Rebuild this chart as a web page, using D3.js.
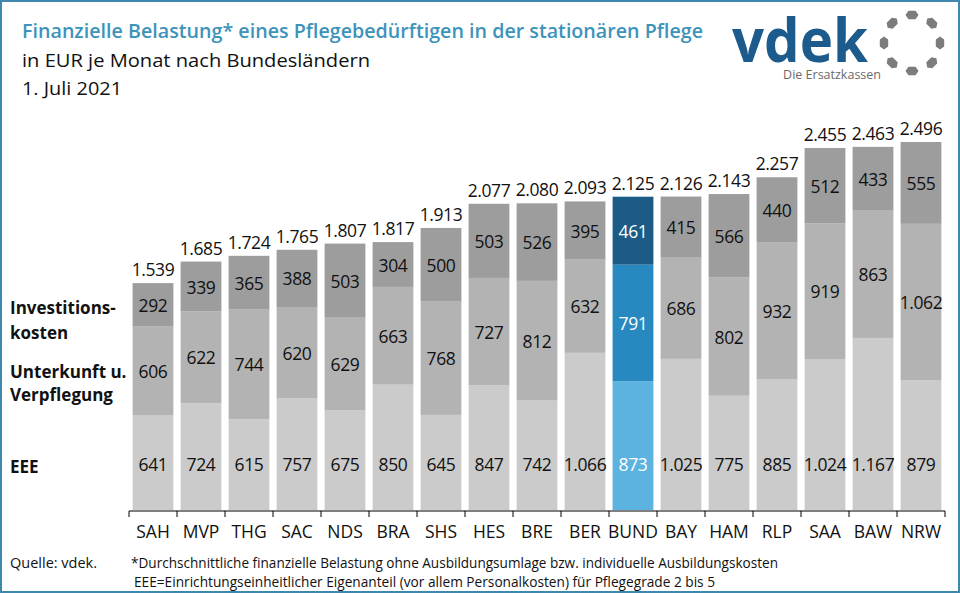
<!DOCTYPE html>
<html>
<head>
<meta charset="utf-8">
<script src="https://cdn.jsdelivr.net/npm/d3@7"></script>
<style>
  body { margin: 0; background: #fff; }
  svg text { font-family: "Open Sans", "Noto Sans", sans-serif; }
</style>
</head>
<body>
<svg id="chart"></svg>
<script>
// Bundesländer, Reihenfolge wie im Original
let states = ['SAH','MVP','THG','SAC','NDS','BRA','SHS','HES','BRE','BER','BUND','BAY','HAM','RLP','SAA','BAW','NRW']
let eee = [641,724,615,757,675,850,645,847,742,1066,873,1025,775,885,1024,1167,879]
let unterkunft = [606,622,744,620,629,663,768,727,812,632,791,686,802,932,919,863,1062]
let invest = [292,339,365,388,503,304,500,503,526,395,461,415,566,440,512,433,555]
let totals = [1539,1685,1724,1765,1807,1817,1913,2077,2080,2093,2125,2126,2143,2257,2455,2463,2496]
let seriesKeys = ['eee','unterkunft','invest']

let width = 960, height = 593

let svg = d3.select('#chart')
    .attr('width', width)
    .attr('height', height)
    .attr('viewBox', `0 0 ${width} ${height}`)

let de = d3.formatLocale({decimal: ',', thousands: '.', grouping: [3], currency: ['', ' €']})
let fmt = de.format(',')

let rows = states.map((s, i) => ({state: s, eee: eee[i], unterkunft: unterkunft[i], invest: invest[i], total: totals[i]}))
let stacked = d3.stack().keys(seriesKeys)(rows)

let x = d3.scaleBand()
    .domain(states)
    .range([129, 945])
    .paddingInner(0.15)
    .paddingOuter(0.075)

let y = d3.scaleLinear()
    .domain([0, d3.max(totals)])
    .range([510, 142])

let grey = {eee: '#cbcbcb', unterkunft: '#b3b3b3', invest: '#9d9d9d'}
let blue = {eee: '#5cb3df', unterkunft: '#2789bf', invest: '#1b5b86'}
let colour = (key, state) => state === 'BUND' ? blue[key] : grey[key]

// Rahmen
svg.append('rect')
    .attr('x', 1).attr('y', 1)
    .attr('width', width - 2).attr('height', height - 2)
    .attr('fill', 'none')
    .attr('stroke', '#3f88ad')
    .attr('stroke-width', 2)

// Titel
let titleG = svg.append('g').attr('id', 'titleG')
titleG.append('text')
    .attr('x', 22).attr('y', 38)
    .attr('font-size', 19).attr('font-weight', 600)
    .attr('fill', '#3d93bb')
    .attr('textLength', 681).attr('lengthAdjust', 'spacingAndGlyphs')
    .text('Finanzielle Belastung* eines Pflegebedürftigen in der stationären Pflege')
titleG.append('text')
    .attr('x', 22).attr('y', 67)
    .attr('font-size', 19).attr('fill', '#111')
    .attr('textLength', 348).attr('lengthAdjust', 'spacingAndGlyphs')
    .text('in EUR je Monat nach Bundesländern')
titleG.append('text')
    .attr('x', 22).attr('y', 95)
    .attr('font-size', 19).attr('fill', '#111')
    .attr('textLength', 100).attr('lengthAdjust', 'spacingAndGlyphs')
    .text('1. Juli 2021')

// Logo
let logoG = svg.append('g').attr('id', 'logoG')
logoG.append('text')
    .attr('transform', 'translate(732, 62) scale(1, 1.12)')
    .attr('font-family', '"DejaVu Sans", sans-serif')
    .attr('font-size', 54).attr('font-weight', 'bold')
    .attr('fill', '#1c5b8c')
    .attr('textLength', 136).attr('lengthAdjust', 'spacingAndGlyphs')
    .text('vdek')
logoG.append('text')
    .attr('x', 881).attr('y', 79)
    .attr('text-anchor', 'end')
    .attr('font-size', 12.5).attr('fill', '#6a6a6a')
    .text('Die Ersatzkassen')
let hex = 'M-6.5,0 L-3.6,-4.2 L3.6,-4.2 L6.5,0 L3.6,4.2 L-3.6,4.2 Z'
logoG.selectAll('.ring')
    .data(d3.range(8))
    .enter().append('path')
    .attr('class', 'ring')
    .attr('d', hex)
    .attr('fill', '#7c7c7c')
    .attr('transform', d => {
        let a = d * 45
        let rad = a * Math.PI / 180
        return `translate(${912 + 28 * Math.cos(rad)}, ${43 + 28 * Math.sin(rad)}) rotate(${a + 90})`
    })

// Balken
let barG = svg.append('g').attr('id', 'barG')
let layers = barG.selectAll('.layer')
    .data(stacked)
    .enter().append('g')
    .attr('class', 'layer')

let cells = d => d.map(v => ({key: d.key, state: v.data.state, y0: v[0], y1: v[1], value: v.data[d.key]}))

layers.selectAll('rect')
    .data(cells)
    .enter().append('rect')
    .attr('x', d => x(d.state))
    .attr('width', x.bandwidth())
    .attr('y', d => y(d.y1))
    .attr('height', d => y(d.y0) - y(d.y1))
    .attr('fill', d => colour(d.key, d.state))

layers.selectAll('text')
    .data(cells)
    .enter().append('text')
    .attr('x', d => x(d.state) + x.bandwidth() / 2)
    .attr('y', d => d.key === 'eee' ? 471 : (y(d.y0) + y(d.y1)) / 2 + 7)
    .attr('text-anchor', 'middle')
    .attr('font-size', 17.5)
    .attr('letter-spacing', -0.4)
    .attr('fill', d => d.state === 'BUND' ? '#fff' : '#111')
    .text(d => fmt(d.value))

barG.selectAll('.total')
    .data(rows)
    .enter().append('text')
    .attr('class', 'total')
    .attr('x', d => x(d.state) + x.bandwidth() / 2)
    .attr('y', d => y(d.total) - 7)
    .attr('text-anchor', 'middle')
    .attr('font-size', 17.5)
    .attr('letter-spacing', -0.4)
    .attr('fill', '#111')
    .text(d => fmt(d.total))

// Achse
let axisG = svg.append('g').attr('id', 'axisG')
    .attr('transform', 'translate(0, 511)')
axisG.call(d3.axisBottom(x).tickSize(0).tickPadding(22))
axisG.select('.domain').remove()
axisG.selectAll('.tick text')
    .attr('font-family', '"Open Sans", sans-serif')
    .attr('font-size', 17.5)
    .attr('fill', '#111')
    .attr('dy', '0.3em')
axisG.append('line')
    .attr('x1', x.range()[0]).attr('x2', x.range()[1])
    .attr('y1', 0).attr('y2', 0)
    .attr('stroke', '#000')
let bounds = states.map(s => x(s) - x.step() * x.paddingInner() / 2).concat([x.range()[1]])
bounds[0] = x.range()[0]
axisG.selectAll('.bound')
    .data(bounds)
    .enter().append('line')
    .attr('class', 'bound')
    .attr('x1', d => d).attr('x2', d => d)
    .attr('y1', 0).attr('y2', 6)
    .attr('stroke', '#000')

// Legende links
let legendG = svg.append('g').attr('id', 'legendG')
    .attr('font-size', 17).attr('font-weight', 'bold').attr('fill', '#111')
let legendLines = [['Investitions-', 314], ['kosten', 339], ['Unterkunft u.', 378], ['Verpflegung', 401], ['EEE', 473]]
legendG.selectAll('text')
    .data(legendLines)
    .enter().append('text')
    .attr('x', 10)
    .attr('y', d => d[1])
    .text(d => d[0])

// Fussnoten
let noteG = svg.append('g').attr('id', 'noteG')
    .attr('font-family', '"Liberation Sans Narrow", "DejaVu Sans Condensed", sans-serif')
    .attr('font-size', 14.5).attr('fill', '#111')
noteG.append('text').attr('x', 10).attr('y', 568).text('Quelle: vdek.')
noteG.append('text').attr('x', 131).attr('y', 568)
    .attr('textLength', 647).attr('lengthAdjust', 'spacingAndGlyphs')
    .text('*Durchschnittliche finanzielle Belastung ohne Ausbildungsumlage bzw. individuelle Ausbildungskosten')
noteG.append('text').attr('x', 134).attr('y', 587)
    .attr('textLength', 581).attr('lengthAdjust', 'spacingAndGlyphs')
    .text('EEE=Einrichtungseinheitlicher Eigenanteil (vor allem Personalkosten) für Pflegegrade 2 bis 5')
</script>
</body>
</html>
